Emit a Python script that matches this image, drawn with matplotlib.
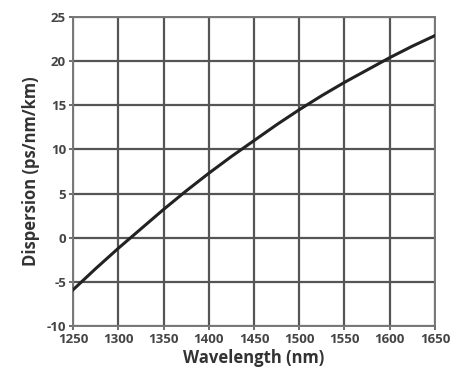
import matplotlib
matplotlib.use('Agg')
import matplotlib.pyplot as plt

# values
wavelength = [1250, 1275, 1300, 1325, 1350, 1375, 1400, 1425, 1450,
              1475, 1500, 1525, 1550, 1575, 1600, 1625, 1650]
dispersion = [-5.9, -3.5, -1.2, 1.0, 3.2, 5.3, 7.3, 9.2, 11.0,
              12.8, 14.5, 16.1, 17.6, 19.0, 20.4, 21.7, 22.9]
x_ticks = [1250, 1300, 1350, 1400, 1450, 1500, 1550, 1600, 1650]
y_ticks = [-10, -5, 0, 5, 10, 15, 20, 25]

plt.rcParams['font.family'] = ['Open Sans', 'DejaVu Sans']
plt.rcParams['axes.unicode_minus'] = False

fig = plt.figure(figsize=(4.54, 3.79), dpi=100)
ax = fig.add_axes([0.161, 0.140, 0.797, 0.815])

ax.plot(wavelength, dispersion, color='#222222', linewidth=2.2, zorder=3)

ax.set_xlim(1250, 1650)
ax.set_ylim(-10, 25)
ax.set_xticks(x_ticks)
ax.set_yticks(y_ticks)
ax.grid(True, color='#555555', linewidth=1.6)
for s in ax.spines.values():
    s.set_color('#777777')
    s.set_linewidth(1.4)
ax.tick_params(direction='out', length=3, width=1.2, color='#555555',
               labelsize=9.5, labelcolor='#444444', pad=2)
for lab in ax.get_xticklabels() + ax.get_yticklabels():
    lab.set_fontweight('bold')

ax.set_xlabel('Wavelength (nm)', fontsize=12, fontweight='bold', color='#333333', labelpad=2)
ax.set_ylabel('Dispersion (ps/nm/km)', fontsize=12, fontweight='bold', color='#333333', labelpad=5)

fig.savefig('out.png', dpi=100)
